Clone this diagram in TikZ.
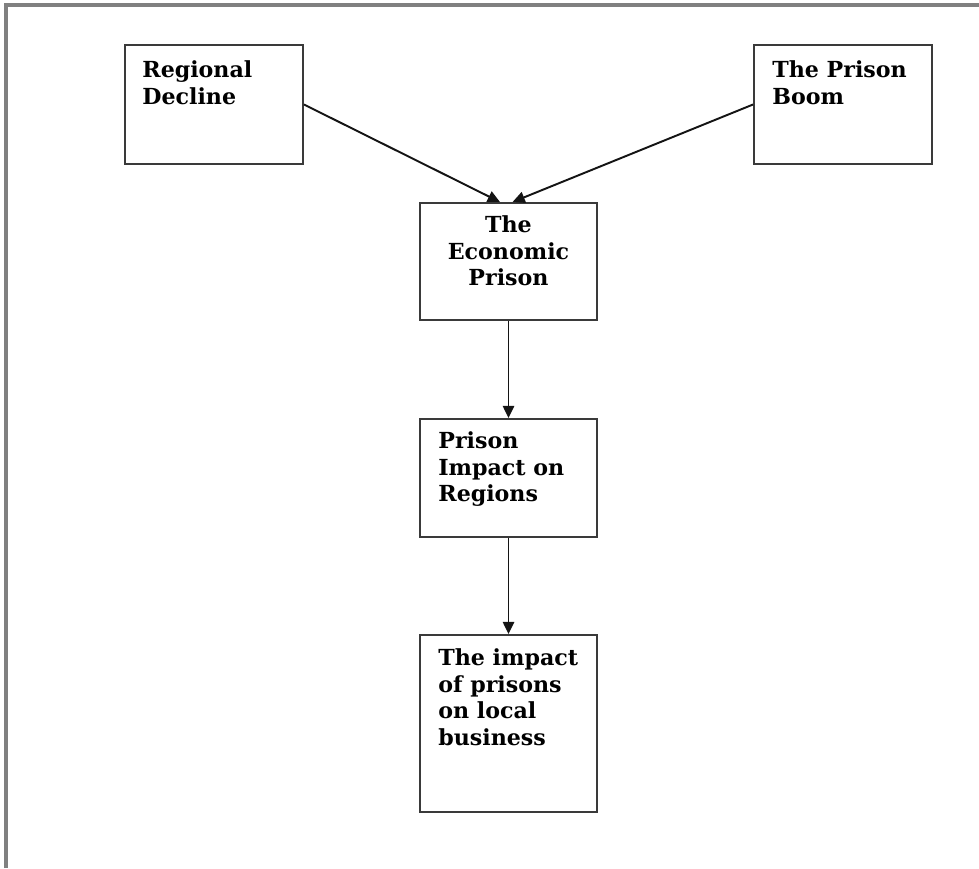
\documentclass[tikz,border=0pt]{standalone}
\usepackage{fontspec}
\setmainfont{DejaVu Serif}
\usepackage{xcolor}
\definecolor{Col1}{RGB}{58,58,58}
\definecolor{Col2}{RGB}{20,20,20}
\definecolor{Col3}{RGB}{128,128,128}
\usepackage{tikz}
\usetikzlibrary{arrows.meta}
\tikzstyle{Box}=[rectangle,draw=Col1,line width=1.1pt,inner sep=0pt]
\tikzstyle{Label}=[inner sep=0pt,font=\bfseries\fontsize{12.6}{15.3}\selectfont,
text=black]
\tikzstyle{Edge}=[draw=Col2,line width=1.1pt,
-{Triangle[width=6.5pt,length=7pt]}]
\tikzstyle{Frame}=[draw=Col3,line width=2pt]

\begin{document}
\begin{tikzpicture}[x=0.02cm,y=-0.02cm]
        \useasboundingbox(0,0)rectangle(979,868);
        \coordinate(fl)at(6,868);
        \coordinate(fc)at(6,5);
        \coordinate(fr)at(979,5);
        \draw[Frame](fl)--(fc)--(fr);
        % boxes
        \node[Box,minimum width=3.56cm,minimum height=2.38cm](rd)
            at(214,104.5){};
        \node[Box,minimum width=3.56cm,minimum height=2.38cm](pb)
            at(843,104.5){};
        \node[Box,minimum width=3.54cm,minimum height=2.34cm](ep)
            at(508.5,261.5){};
        \node[Box,minimum width=3.54cm,minimum height=2.36cm](pi)
            at(508.5,478){};
        \node[Box,minimum width=3.54cm,minimum height=3.54cm](ib)
            at(508.5,723.5){};
        % texts
        \node[Label,anchor=north west,align=left](rdT)at(142,60)
            {Regional\\Decline};
        \node[Label,anchor=north west,align=left](pbT)at(772,60)
            {The Prison\\Boom};
        \node[Label,anchor=north,align=center](epT)at(508.5,215)
            {The\\Economic\\Prison};
        \node[Label,anchor=north west,align=left](piT)at(438,431)
            {Prison\\Impact on\\Regions};
        \node[Label,anchor=north west,align=left](ibT)at(438,648)
            {The impact\\of prisons\\on local\\business};
        % connectors
        \draw[Edge](rd.east)--([xshift=-0.17cm]ep.north);
        \draw[Edge](pb.west)--([xshift=0.08cm]ep.north);
        \draw[Edge](ep.south)--(pi.north);
        \draw[Edge](pi.south)--(ib.north);
    \end{tikzpicture}
\end{document}
